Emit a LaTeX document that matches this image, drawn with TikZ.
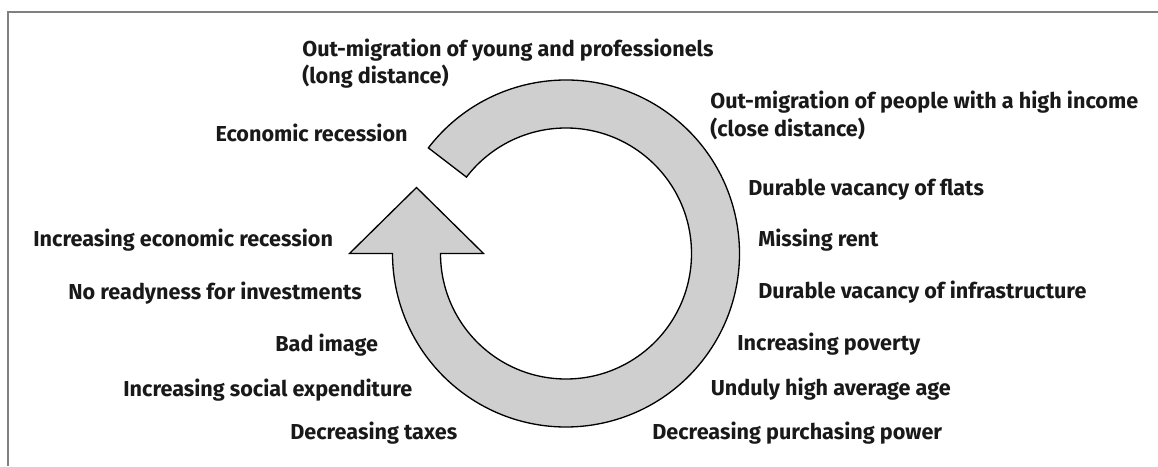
\documentclass[tikz,border=0pt]{standalone}
\usepackage{fontspec}
\setmainfont{Fira Sans}
\usetikzlibrary{positioning}

\begin{document}
\begin{tikzpicture}[x=0.02cm,y=0.02cm,
  every node/.style={font=\bfseries\fontsize{12.3}{14}\selectfont,text=black!90,inner sep=0pt},
  lbl/.style={anchor=base west},
  lblr/.style={anchor=base east},
  ring/.style={draw=black,line width=0.75pt,fill=black!19,line join=miter},
  frame/.style={draw=black!50,line width=0.7pt}]
\useasboundingbox (0,0) rectangle (1158,466);
\draw[frame] (8,0) -- (8,454) -- (1158,454);
% ring arrow, centre of the circle
\begin{scope}[shift={(566,212.5)}]
\draw[ring] (142.5:173.5) arc[start angle=142.5,end angle=-180,radius=173.5]
  -- (-216.5,0) -- (-149.5,66) -- (-82.5,0) -- (-125.5,0)
  arc[start angle=-180,end angle=142.5,radius=125.5] -- cycle;
\end{scope}
% causes, left and top
\node[lbl] (young) at (302,409) {Out-migration of young and professionels};
\node[lbl] (young2) at (302,382) {(long distance)};
\node[lblr] (recess) at (408,324) {Economic recession};
\node[lbl] (increc) at (33,219) {Increasing economic recession};
\node[lbl] (noinv) at (68,166) {No readyness for investments};
\node[lbl] (image) at (275,114) {Bad image};
\node[lbl] (social) at (123,69) {Increasing social expenditure};
\node[lbl] (taxes) at (290,27) {Decreasing taxes};
% effects, right side
\node[lbl] (rich) at (710,357) {Out-migration of people with a high income};
\node[lbl] (rich2) at (710,329) {(close distance)};
\node[lbl] (flats) at (748,270) {Durable vacancy of flats};
\node[lbl] (rent) at (758,219) {Missing rent};
\node[lbl] (infra) at (758,167) {Durable vacancy of infrastructure};
\node[lbl] (poverty) at (737,115) {Increasing poverty};
\node[lblr] (age) at (951,70) {Unduly high average age};
\node[lbl] (power) at (652,27) {Decreasing purchasing power};
\end{tikzpicture}
\end{document}
